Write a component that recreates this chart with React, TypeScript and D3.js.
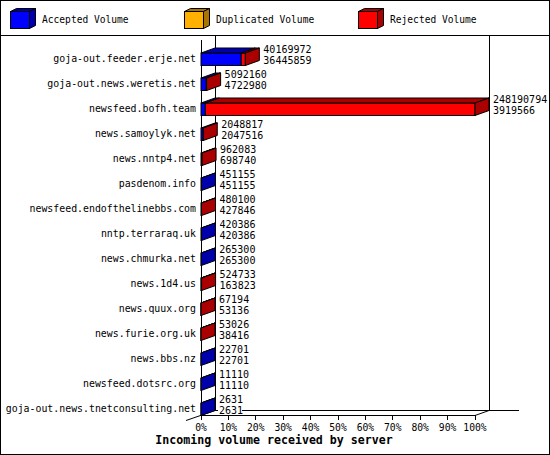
import React from 'react';
import * as d3 from 'd3';

const servers = [
  'goja-out.feeder.erje.net',
  'goja-out.news.weretis.net',
  'newsfeed.bofh.team',
  'news.samoylyk.net',
  'news.nntp4.net',
  'pasdenom.info',
  'newsfeed.endofthelinebbs.com',
  'nntp.terraraq.uk',
  'news.chmurka.net',
  'news.1d4.us',
  'news.quux.org',
  'news.furie.org.uk',
  'news.bbs.nz',
  'newsfeed.dotsrc.org',
  'goja-out.news.tnetconsulting.net',
];

// top label: offered volume, bottom label: accepted volume
const offered = [40169972, 5092160, 248190794, 2048817, 962083, 451155, 480100, 420386, 265300, 524733, 67194, 53026, 22701, 11110, 2631];
const accepted = [36445859, 4722980, 3919566, 2047516, 698740, 451155, 427846, 420386, 265300, 163823, 53136, 38416, 22701, 11110, 2631];
const duplicated = [0, 0, 0, 0, 0, 0, 0, 0, 0, 0, 0, 0, 0, 0, 0];
const rejected = [3724113, 369180, 244271228, 1301, 263343, 0, 52254, 0, 0, 360910, 14058, 14610, 0, 0, 0];

const seriesNames = ['Accepted Volume', 'Duplicated Volume', 'Rejected Volume'];
const percentTicks = [0, 10, 20, 30, 40, 50, 60, 70, 80, 90, 100];

const front = ['#0000ff', '#ffb000', '#ff0000'];
const shade = ['#0000aa', '#aa7400', '#aa0000'];

const W = 550;
const H = 455;
const DX = 14;
const DY = 5;
const mono = '"DejaVu Sans Mono", monospace';

const poly = (pts: [number, number][]) => pts.map(p => p.join(',')).join(' ');

export default function App() {
  const x = d3.scaleLinear().domain([0, d3.max(offered) as number]).range([201, 475]);
  const pct = d3.scaleLinear().domain([0, 100]).range([201, 475]);
  const y = d3.scaleBand<string>().domain(servers).range([40, 415]);
  const step = y.step();

  const stack = d3.stack<number>()
    .keys(['0', '1', '2'])
    .value((i, k) => [accepted, duplicated, rejected][+k][i]);
  const layers = stack(d3.range(servers.length));

  const legendX = [10, 184, 358];

  return (
    <svg width={W} height={H} style={{ position: 'absolute', left: 0, top: 0, background: '#fff' }}
      fontFamily={mono}>
      <rect x={0.5} y={0.5} width={W - 1} height={H - 1} fill="#fff" stroke="#000" />
      <line x1={0} x2={W} y1={35.5} y2={35.5} stroke="#000" />

      {/* legend */}
      {seriesNames.map((name, k) => {
        const lx = legendX[k];
        const x0 = lx, x1 = lx + 19, y0 = 11, y1 = 28, dx = 6, dy = 3;
        return (
          <g key={name} stroke="#000" strokeWidth={1}>
            <rect x={x0 + 0.5} y={y0 + 0.5} width={x1 - x0} height={y1 - y0} fill={front[k]} />
            <polygon points={poly([[x0 + 0.5, y0 + 0.5], [x0 + dx + 0.5, y0 - dy + 0.5], [x1 + dx + 0.5, y0 - dy + 0.5], [x1 + 0.5, y0 + 0.5]])} fill={shade[k]} />
            <polygon points={poly([[x1 + 0.5, y0 + 0.5], [x1 + dx + 0.5, y0 - dy + 0.5], [x1 + dx + 0.5, y1 - dy + 0.5], [x1 + 0.5, y1 + 0.5]])} fill={shade[k]} />
            <text x={x1 + 13} y={23} stroke="none" fill="#000" fontSize={9.6}>{name}</text>
          </g>
        );
      })}

      {/* walls */}
      <g stroke="#000" shapeRendering="crispEdges">
        <line x1={x(0) + DX} x2={x(0) + DX} y1={36} y2={415 - DY} />
        <line x1={pct(100) + DX} x2={pct(100) + DX} y1={36} y2={415 - DY} />
        <line x1={x(0) + DX} x2={pct(100) + DX + 30} y1={415 - DY} y2={415 - DY} />
        <line x1={x(0)} x2={x(0)} y1={40} y2={415} />
        <line x1={x(0)} x2={pct(100)} y1={415} y2={415} />
      </g>
      <g stroke="#000">
        <line x1={x(0) - 15} y1={420.5} x2={x(0) + DX} y2={415.5 - DY} />
        <line x1={pct(100)} y1={415.5} x2={pct(100) + DX} y2={415.5 - DY} />
      </g>

      {/* bars */}
      {servers.map((s, i) => {
        const b = y(s) as number;
        const y0 = b + step / 2 + 0.5;
        const y1 = b + step + 0.5;
        const last = [2, 1, 0].find(k => [accepted, duplicated, rejected][k][i] > 0) ?? 0;
        const xEnd = x(offered[i]);
        return (
          <g key={s} stroke="#000" strokeWidth={1}>
            {layers.map((layer, k) => {
              const a = x(layer[i][0]);
              const e = x(layer[i][1]);
              if (layer[i][1] - layer[i][0] <= 0) return null;
              return (
                <g key={k}>
                  <rect x={a} y={y0} width={e - a} height={y1 - y0} fill={front[k]} />
                  <polygon points={poly([[a, y0], [a + DX, y0 - DY], [e + DX, y0 - DY], [e, y0]])} fill={shade[k]} />
                </g>
              );
            })}
            <polygon points={poly([[xEnd, y0], [xEnd + DX, y0 - DY], [xEnd + DX, y1 - DY], [xEnd, y1]])} fill={shade[last]} />
            <text x={196} y={b + 22} textAnchor="end" stroke="none" fill="#000" fontSize={9.9}>{s}</text>
            <rect x={xEnd + DX + 3} y={b + 13.5} width={String(accepted[i]).length * 6} height={11} fill="#fff" stroke="none" />
            <text x={xEnd + DX + 4} y={b + 13} stroke="none" fill="#000" fontSize={10}>{offered[i]}</text>
            <text x={xEnd + DX + 4} y={b + 24} stroke="none" fill="#000" fontSize={10}>{accepted[i]}</text>
          </g>
        );
      })}

      {/* x axis */}
      <g shapeRendering="crispEdges">
        {percentTicks.map(t => (
          <g key={t}>
            <line x1={pct(t)} x2={pct(t)} y1={415} y2={420} stroke="#000" />
            <text x={pct(t)} y={431} textAnchor="middle" fontSize={9.7} fill="#000">{t}%</text>
          </g>
        ))}
      </g>
      <text x={274} y={444} textAnchor="middle" fontSize={11.6} fontWeight="bold" fill="#000">
        Incoming volume received by server
      </text>
    </svg>
  );
}
